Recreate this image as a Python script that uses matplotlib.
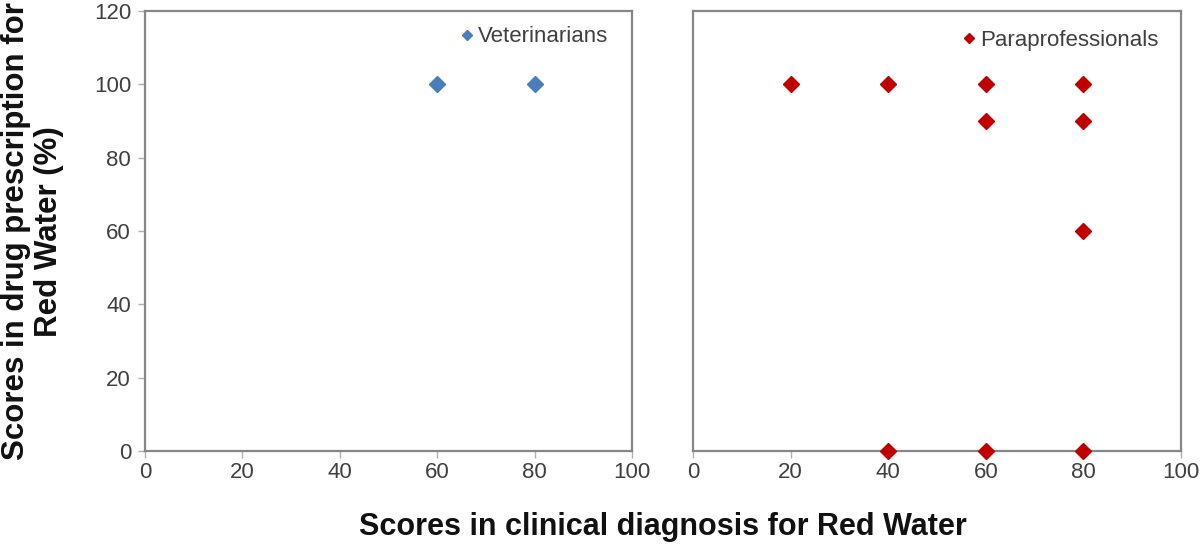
import matplotlib.pyplot as plt

plt.rcParams['font.family'] = ['Liberation Sans', 'DejaVu Sans']

# Veterinarians
vet_x = [60, 80]
vet_y = [100, 100]

# Paraprofessionals
para_x = [20, 40, 60, 80, 60, 80, 80, 40, 60, 80]
para_y = [100, 100, 100, 100, 90, 90, 60, 0, 0, 0]

x_ticks = [0, 20, 40, 60, 80, 100]
y_ticks = [0, 20, 40, 60, 80, 100, 120]

frame_col = '#868686'
text_col = '#404040'

fig = plt.figure(figsize=(12, 5.47), dpi=100)
ax1 = fig.add_axes([0.1208, 0.1755, 0.4058, 0.8044])
ax2 = fig.add_axes([0.5775, 0.1755, 0.4067, 0.8044])


def style(ax, show_y):
    ax.set_xlim(0, 100)
    ax.set_ylim(0, 120)
    ax.set_xticks(x_ticks)
    ax.set_yticks(y_ticks)
    for s in ax.spines.values():
        s.set_color(frame_col)
        s.set_linewidth(1.6)
    ax.tick_params(axis='x', direction='out', length=5, width=1, color='#b0b0b0',
                   labelsize=16, labelcolor=text_col, pad=3)
    if show_y:
        ax.tick_params(axis='y', direction='out', length=5, width=1, color='#b0b0b0',
                       labelsize=16, labelcolor=text_col, pad=5)
    else:
        ax.tick_params(axis='y', left=False, labelleft=False)


style(ax1, True)
style(ax2, False)

ax1.plot(vet_x, vet_y, 'D', color='#4a7ebb', markersize=8, label='Veterinarians',
         clip_on=False, zorder=3)
ax2.plot(para_x, para_y, 'D', color='#c00000', markersize=8, label='Paraprofessionals',
         clip_on=False, zorder=3)

for ax, anchor in [(ax1, (0.647, 0.941)), (ax2, (0.551, 0.934))]:
    leg = ax.legend(loc='center left', bbox_to_anchor=anchor, frameon=False,
                    fontsize=16, borderpad=0, borderaxespad=0, handlelength=0.6,
                    handletextpad=0.2, markerscale=0.7)
    for t in leg.get_texts():
        t.set_color(text_col)

fig.text(0.5525, 0.036, 'Scores in clinical diagnosis for Red Water', ha='center',
         va='center', fontsize=22, fontweight='bold', color='#111111')
fig.text(0.027, 0.577, 'Scores in drug prescription for\nRed Water (%)', ha='center',
         va='center', rotation=90, fontsize=22.5, fontweight='bold', color='#111111',
         linespacing=1.1)

fig.savefig('out.png', dpi=100)
